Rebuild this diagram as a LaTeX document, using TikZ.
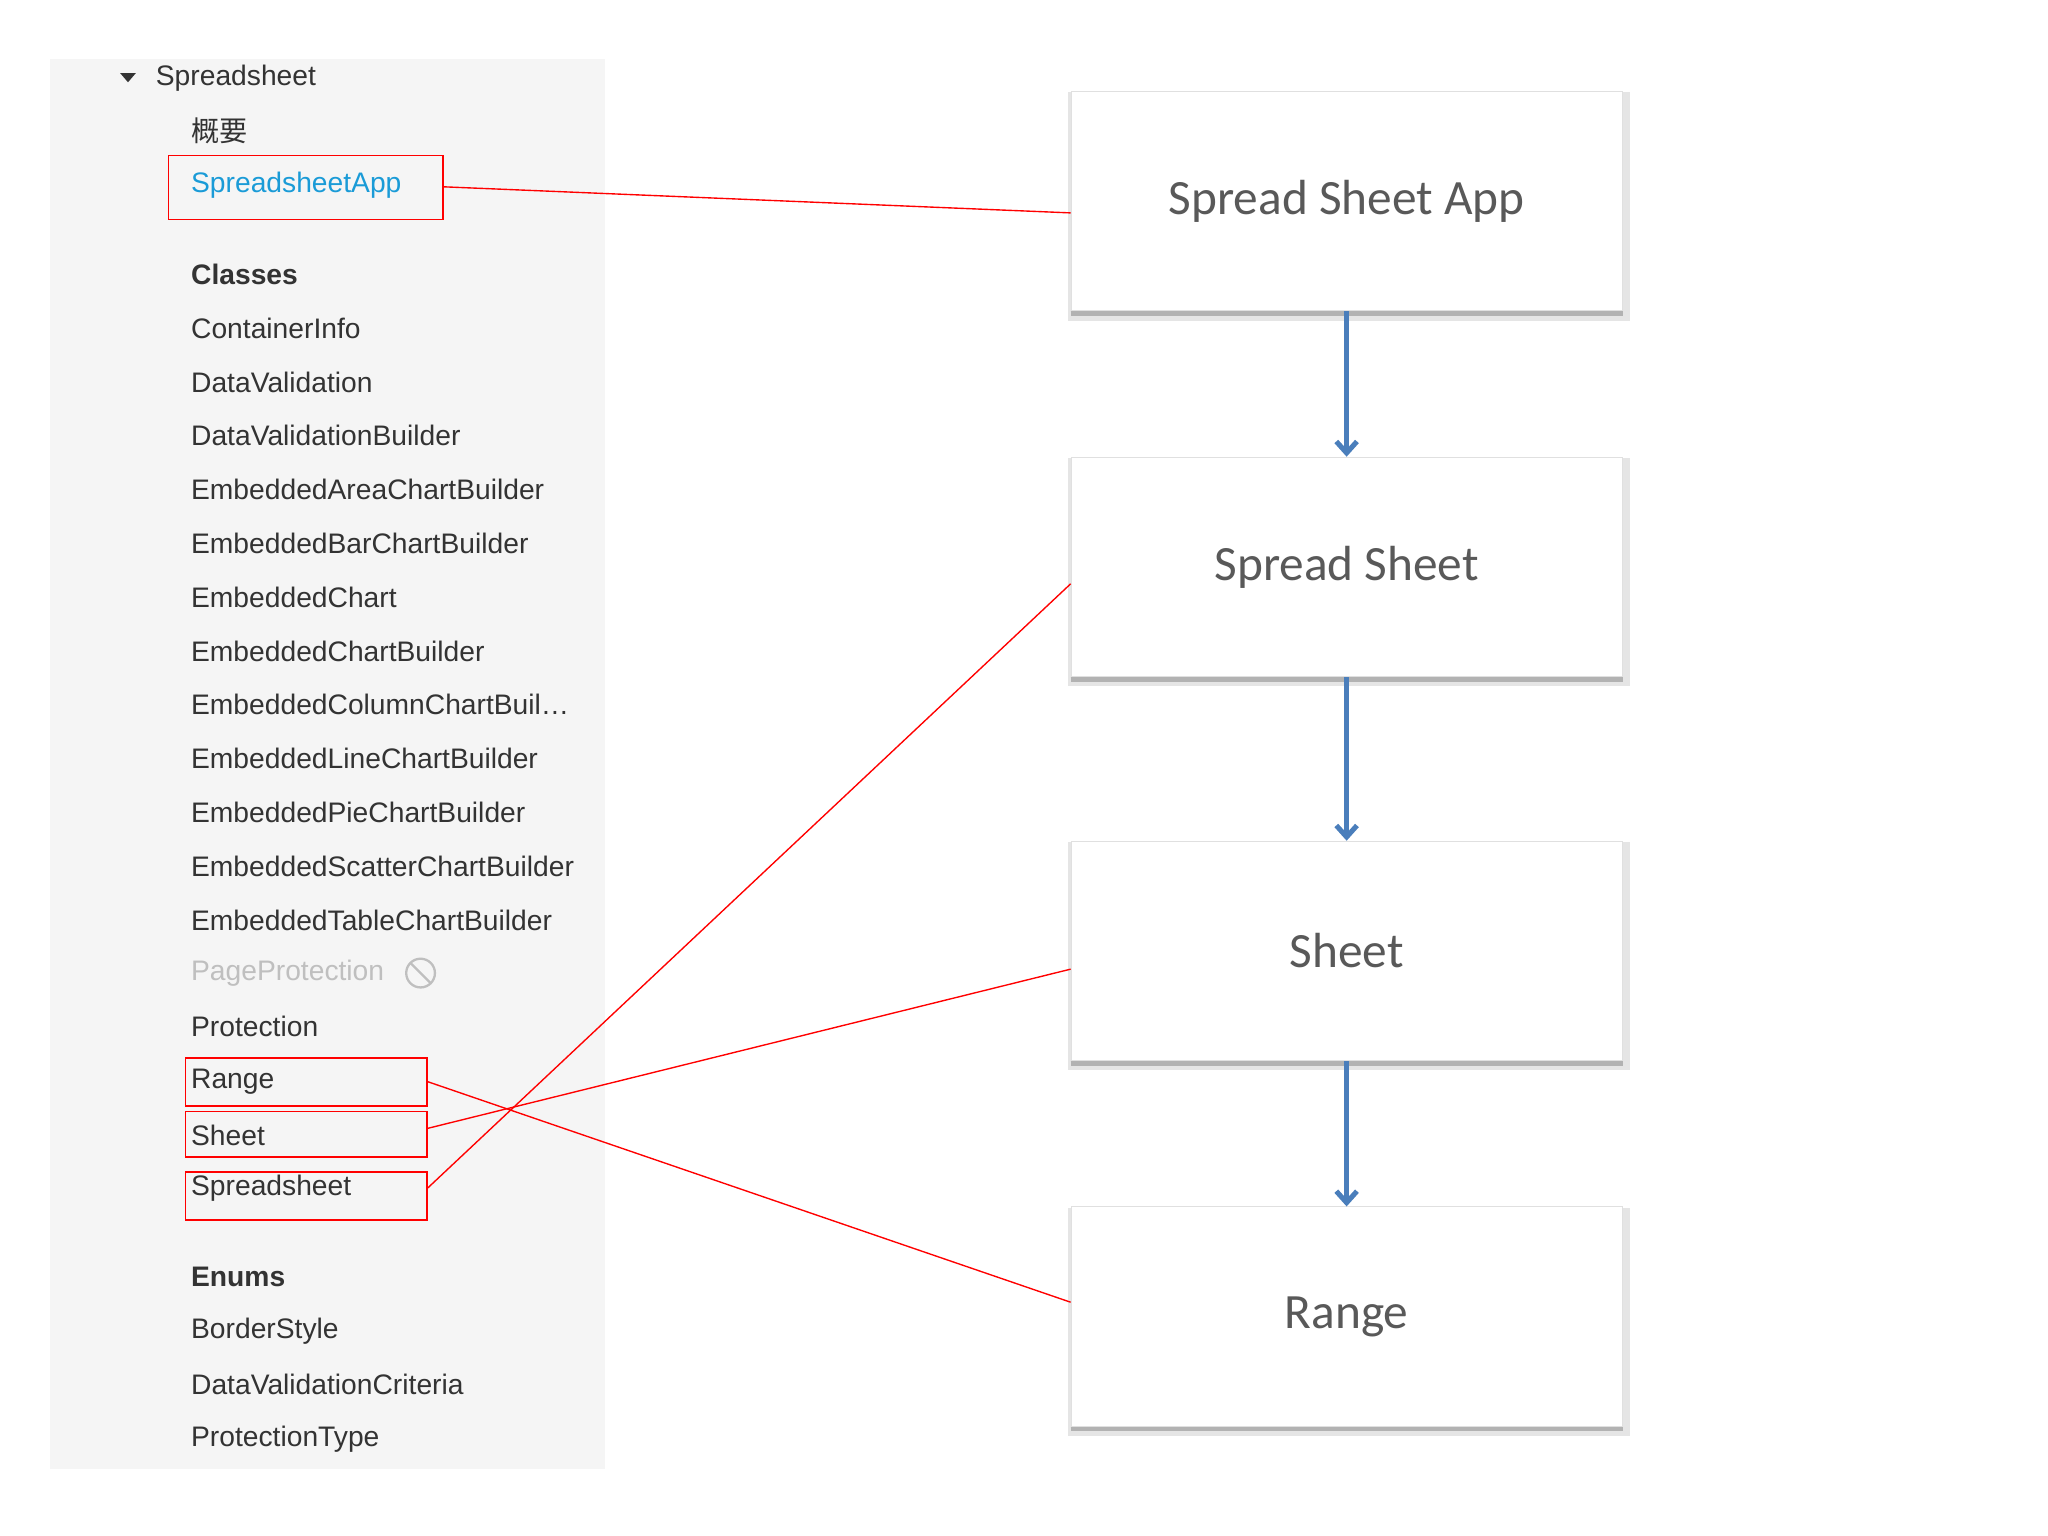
\documentclass[tikz,border=0pt]{standalone}
\usepackage{fontspec}
\setmainfont{Liberation Sans}
\newfontfamily\cjk{Noto Sans CJK SC}
\newfontfamily\boxfont{Carlito}
\usetikzlibrary{arrows.meta}
\definecolor{panel}{HTML}{F5F5F5}
\definecolor{itemc}{HTML}{333333}
\definecolor{boxtxt}{HTML}{595959}
\definecolor{arrowc}{HTML}{4A7EBB}
\definecolor{linkc}{HTML}{1A9BD7}
\tikzset{
 item/.style={anchor=west,inner sep=0pt,text=itemc,font=\fontsize{12.3}{14}\selectfont},
 hl/.style={draw=red,line width=0.8pt},
 con/.style={red,line width=0.6pt},
 bigbox/.style={draw=black!12,fill=white,minimum width=8.44cm,minimum height=3.36cm,font=\boxfont\fontsize{21.5}{25}\selectfont,text=boxtxt},
 shadowbox/.style={fill=black!10,minimum width=8.6cm,minimum height=3.5cm,draw=none},
 flow/.style={arrowc,line width=2.2pt,-{Straight Barb[length=5pt,width=9pt]}}
}
\begin{document}
\begin{tikzpicture}[x=0.02cm,y=-0.02cm]
\useasboundingbox (0,0) rectangle (1568,1176);
\fill[panel] (38,45) rectangle (463,1125);
\fill[itemc] (92,56) -- (104,56) -- (98,63) -- cycle;
\node[item] (top) at (119,60) {Spreadsheet};
\node[item] (ov) at (146,100) {\cjk 概要};
\node[item,text=linkc] (app) at (146,142) {SpreadsheetApp};
\node[item,font=\bfseries\fontsize{12.3}{14}\selectfont] (cls) at (146,210) {Classes};
\foreach \t [count=\i] in {ContainerInfo,DataValidation,DataValidationBuilder,EmbeddedAreaChartBuilder,EmbeddedBarChartBuilder,EmbeddedChart,EmbeddedChartBuilder,{EmbeddedColumnChartBuil\ldots},EmbeddedLineChartBuilder,EmbeddedPieChartBuilder,EmbeddedScatterChartBuilder,EmbeddedTableChartBuilder}
  \node[item] (c\i) at (146,{210+41.2*\i}) {\t};
\node[item,text=black!25] (pp) at (146,745) {PageProtection};
\draw[black!25,line width=1pt] (322,745) circle (11);
\draw[black!25,line width=1pt] (314,737) -- (330,753);
\node[item] (prot) at (146,786) {Protection};
\node[item] (rng) at (146,828) {Range};
\node[item] (sht) at (146,869) {Sheet};
\node[item] (ss) at (146,910) {Spreadsheet};
\node[item,font=\bfseries\fontsize{12.3}{14}\selectfont] (en) at (146,978) {Enums};
\node[item] (e1) at (146,1019) {BorderStyle};
\node[item] (e2) at (146,1060) {DataValidationCriteria};
\node[item] (e3) at (146,1102) {ProtectionType};
% highlight boxes
\draw[hl] (129,119) rectangle (339,168); \coordinate (happ) at (339,143);
\draw[hl] (142,810) rectangle (327,847); \coordinate (hrng) at (327,828);
\draw[hl] (142,851) rectangle (327,886); \coordinate (hsht) at (327,864);
\draw[hl] (142,897) rectangle (327,934); \coordinate (hss) at (327,910);
% right boxes
\foreach \n/\y/\t in {b1/154/Spread Sheet App,b2/434/Spread Sheet,b3/728/Sheet,b4/1008/Range}{
  \node[shadowbox] at (1033,\y+4) {};
  \node[bigbox] (\n) at (1031,\y) {\t};
  \draw[black!30,line width=2pt] ([yshift=-1pt]\n.south west) -- ([yshift=-1pt]\n.south east);
}
\draw[flow] (b1.south) -- (b2.north);
\draw[flow] (b2.south) -- (b3.north);
\draw[flow] (b3.south) -- (b4.north);
\draw[con] (happ) -- ([yshift=-0.18cm]b1.west);
\draw[con] (hrng) -- ([yshift=0.22cm]b4.west);
\draw[con] (hsht) -- ([yshift=-0.28cm]b3.west);
\draw[con] (hss) -- ([yshift=-0.26cm]b2.west);
\end{tikzpicture}
\end{document}
